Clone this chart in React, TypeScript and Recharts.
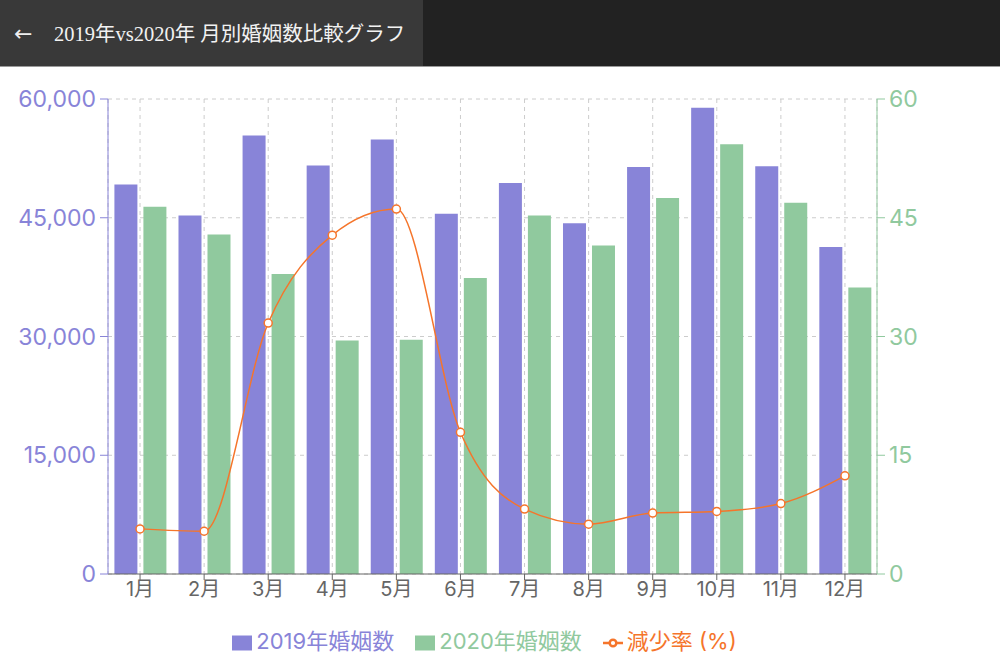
import React from 'react';
import { ComposedChart, Bar, Line, XAxis, YAxis, CartesianGrid, Legend } from 'recharts';

// Monthly marriages
const MONTHS = ['1月', '2月', '3月', '4月', '5月', '6月', '7月', '8月', '9月', '10月', '11月', '12月'];
const MARRIAGES_2019 = [49200, 45300, 55400, 51600, 54900, 45500, 49400, 44300, 51400, 58900, 51500, 41300];
const MARRIAGES_2020 = [46400, 42900, 37900, 29500, 29600, 37400, 45300, 41500, 47500, 54300, 46900, 36200];
const DECREASE_RATE = [5.7, 5.4, 31.7, 42.8, 46.1, 17.9, 8.2, 6.3, 7.7, 7.9, 8.9, 12.4];

const LEFT_TICKS = [0, 15000, 30000, 45000, 60000];
const RIGHT_TICKS = [0, 15, 30, 45, 60];

const PURPLE = '#8884d8';
const GREEN = '#90c99e';
const ORANGE = '#f5752b';

const data = MONTHS.map((name, i) => ({
  name,
  y2019: MARRIAGES_2019[i],
  y2020: MARRIAGES_2020[i],
  rate: DECREASE_RATE[i],
}));

// legend spacing tweaks (recharts sets margin inline)
const legendCss = `
  .recharts-legend-item { margin-right: 21px !important; }
  .recharts-default-legend { padding-right: 10px !important; }
`;

const Header: React.FC = () => (
  <div style={{ position: 'absolute', left: 0, top: 0, width: 1000, height: 67, background: '#222', borderBottom: '1px solid #9a9a9a', boxSizing: 'border-box' }}>
    <div style={{ position: 'absolute', left: 0, top: 0, width: 423, height: 66, background: '#393939' }} />
    <div style={{ position: 'absolute', left: 14, top: 20, color: '#eee', fontSize: 22, fontFamily: '"DejaVu Sans", sans-serif', lineHeight: '28px' }}>←</div>
    <div style={{ position: 'absolute', left: 54, top: 20, color: '#f2f2f2', fontSize: 20.5, fontFamily: '"Liberation Serif", "Noto Sans CJK JP", serif', lineHeight: '28px', whiteSpace: 'nowrap' }}>
      2019年vs2020年 月別婚姻数比較グラフ
    </div>
  </div>
);

export default function App() {
  return (
    <div style={{ position: 'absolute', left: 0, top: 0, width: 1000, height: 666, background: '#fff', overflow: 'hidden' }}>
      <style>{legendCss}</style>
      <Header />
      <div style={{ position: 'absolute', left: 0, top: 67, fontFamily: 'Inter, "Noto Sans CJK JP", sans-serif' }}>
        <ComposedChart
          width={1000}
          height={599}
          data={data}
          margin={{ top: 32, right: 0, left: 0, bottom: 11 }}
          barCategoryGap="10%"
          barGap={6}
        >
          <CartesianGrid strokeDasharray="4 4" stroke="#ccc" yAxisId="left" />
          <XAxis
            dataKey="name"
            height={30}
            stroke="#666"
            tickSize={6}
            tick={{ fill: '#666', fontSize: 20 }}
          />
          <YAxis
            yAxisId="left"
            width={108}
            domain={[0, 60000]}
            ticks={LEFT_TICKS}
            stroke={PURPLE}
            tickSize={8}
            tickMargin={4}
            tick={{ fill: PURPLE, fontSize: 23 }}
            tickFormatter={(v: number) => v.toLocaleString('en-US')}
          />
          <YAxis
            yAxisId="right"
            orientation="right"
            width={123}
            domain={[0, 60]}
            ticks={RIGHT_TICKS}
            stroke={GREEN}
            tickSize={8}
            tickMargin={4}
            tick={{ fill: GREEN, fontSize: 23 }}
          />
          <Legend
            iconSize={20}
            wrapperStyle={{ fontSize: 22, paddingTop: 19 }}
          />
          <Bar yAxisId="left" dataKey="y2019" name="2019年婚姻数" fill={PURPLE} isAnimationActive={false} />
          <Bar yAxisId="left" dataKey="y2020" name="2020年婚姻数" fill={GREEN} isAnimationActive={false} />
          <Line
            yAxisId="right"
            type="monotone"
            dataKey="rate"
            name="減少率 (%)"
            stroke={ORANGE}
            strokeWidth={1.5}
            dot={{ r: 4, fill: '#fff', stroke: ORANGE, strokeWidth: 1.5 }}
            isAnimationActive={false}
          />
        </ComposedChart>
      </div>
    </div>
  );
}
